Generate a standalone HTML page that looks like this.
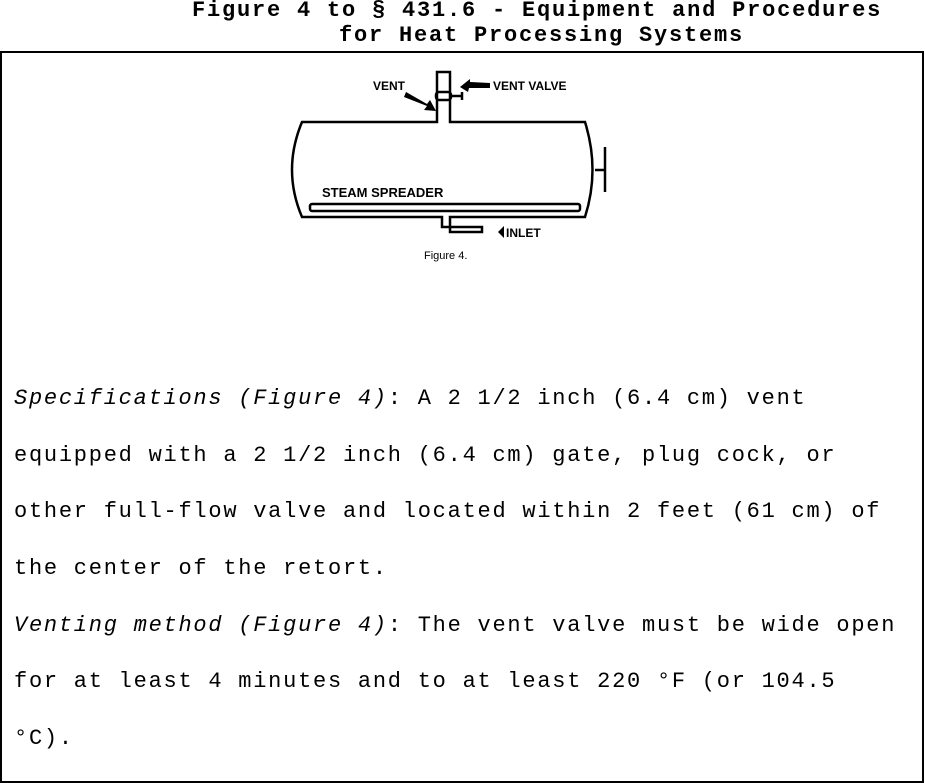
<!DOCTYPE html>
<html><head><style>
body{margin:0;width:925px;height:783px;background:#fff;position:relative;overflow:hidden;font-family:"Liberation Mono",monospace;color:#000}
.t{position:absolute;font-weight:bold;font-size:22px;letter-spacing:1.8px;white-space:pre;line-height:26px}
.b{position:absolute;left:14px;font-size:22px;letter-spacing:1.75px;white-space:pre;line-height:26px}
.box{position:absolute;left:0;top:51px;width:920px;height:728px;border:2px solid #000}
</style></head><body>
<div class="t" style="left:192px;top:-2px">Figure 4 to § 431.6 - Equipment and Procedures</div>
<div class="t" style="left:339px;top:23px">for Heat Processing Systems</div>
<div class="box"></div>
<svg style="position:absolute;left:0;top:0" width="925" height="783">
<g fill="none" stroke="#000" stroke-width="2.5">
<path d="M302 122 H437 V72 H450 V122 H585 Q600 170 585 217 H450 V232 H482 V227 H442 V217 H302 Q282 170 302 122 Z"/>
<rect x="310" y="204" width="270" height="7" rx="2"/>
<path d="M595 170 H604 M605 147 V192"/>
<rect x="436" y="92" width="15" height="8" rx="3"/>
<path d="M451 96 H462 M462 92 V100"/>
</g>
<g fill="#000">
<path d="M406 92 L427 104 L430 100 L436 111 L424 110 L427 106 L404 97 Z"/>
<path d="M490 83 L470 82 L470 79 L460 87 L468 92 L469 88 L490 88 Z"/>
<path d="M498 232 L504 226 V238 Z"/>
</g>
<g font-family="Liberation Sans,sans-serif" font-weight="bold" font-size="12">
<text x="373" y="90">VENT</text>
<text x="493" y="90">VENT VALVE</text>
<text x="322" y="197" font-size="13">STEAM SPREADER</text>
<text x="506" y="237">INLET</text>
</g>
<text x="424" y="259" font-family="Liberation Sans,sans-serif" font-size="11">Figure 4.</text>
</svg>
<div class="b" style="top:386px"><i>Specifications (Figure 4)</i>: A 2 1/2 inch (6.4 cm) vent</div>
<div class="b" style="top:443px">equipped with a 2 1/2 inch (6.4 cm) gate, plug cock, or</div>
<div class="b" style="top:499px">other full-flow valve and located within 2 feet (61 cm) of</div>
<div class="b" style="top:556px">the center of the retort.</div>
<div class="b" style="top:613px"><i>Venting method (Figure 4)</i>: The vent valve must be wide open</div>
<div class="b" style="top:669px">for at least 4 minutes and to at least 220 °F (or 104.5</div>
<div class="b" style="top:726px">°C).</div>
</body></html>
